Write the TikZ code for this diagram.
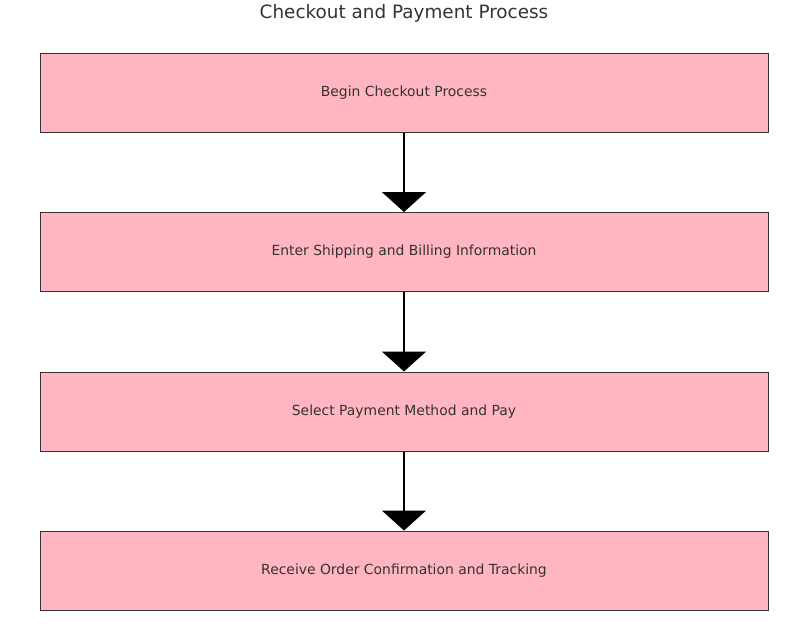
\documentclass[tikz,border=0pt]{standalone}
\usepackage{fontspec}
\setmainfont{DejaVu Sans}
\usetikzlibrary{arrows.meta}
\definecolor{boxpink}{HTML}{FFB6C1}
\definecolor{txtgray}{HTML}{333333}
\definecolor{edgegray}{HTML}{333333}
\begin{document}
\begin{tikzpicture}[x=1pt,y=-1pt,
  stepbox/.style={draw=edgegray,line width=1pt,fill=boxpink,minimum width=728pt,minimum height=79pt,inner sep=0pt,text=txtgray,font=\fontsize{13.9}{16}\selectfont,anchor=center},
  flow/.style={line width=2pt,black,-{Triangle[width=44pt,length=20pt]}}]
\useasboundingbox (0,0) rectangle (807,638);
\node[text=txtgray,font=\fontsize{18.4}{22}\selectfont] (title) at (404,13) {Checkout and Payment Process};
\node[stepbox] (b1) at (404,92.5) {\raisebox{-1.5pt}{Begin Checkout Process}};
\node[stepbox] (b2) at (404,252) {\raisebox{-1.5pt}{Enter Shipping and Billing Information}};
\node[stepbox] (b3) at (404,411.5) {\raisebox{-1.5pt}{Select Payment Method and Pay}};
\node[stepbox] (b4) at (404,570.5) {\raisebox{-1.5pt}{Receive Order Confirmation and Tracking}};
\draw[flow] (b1.south) -- (b2.north);
\draw[flow] (b2.south) -- (b3.north);
\draw[flow] (b3.south) -- (b4.north);
\end{tikzpicture}
\end{document}
